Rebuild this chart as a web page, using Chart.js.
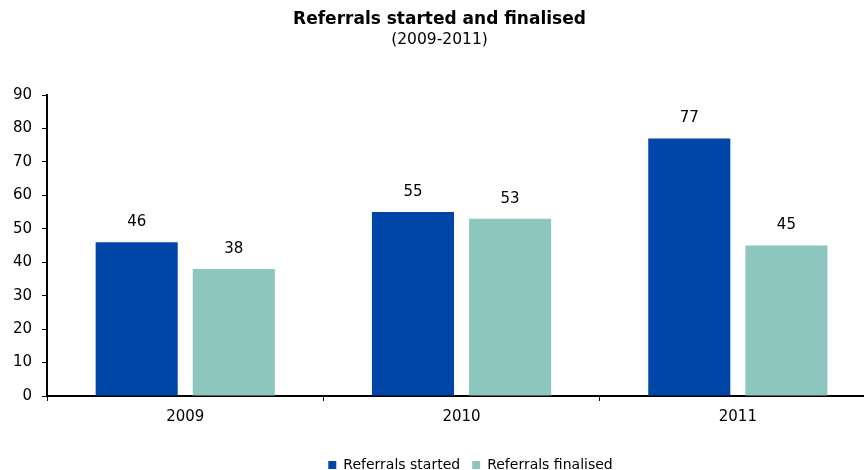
<!DOCTYPE html>
<html>
<head>
<meta charset="utf-8">
<script src="https://cdn.jsdelivr.net/npm/chart.js@4"></script>
<style>
  html, body { margin: 0; padding: 0; background: #fff; overflow: hidden; }
  .wrap { width: 906px; height: 470px; }
</style>
</head>
<body>
<div class="wrap"><canvas id="chart" width="906" height="470"></canvas></div>
<script>
const years = ["2009", "2010", "2011"];
const started = [46, 55, 77];
const finalised = [38, 53, 45];
const yTicks = [0, 10, 20, 30, 40, 50, 60, 70, 80, 90];

const FONT = "'DejaVu Sans', Verdana, sans-serif";

// value labels above each bar
const valueLabels = {
  id: "valueLabels",
  afterDatasetsDraw(chart) {
    const ctx = chart.ctx;
    ctx.save();
    ctx.font = "15px " + FONT;
    ctx.fillStyle = "#000";
    ctx.textAlign = "center";
    ctx.textBaseline = "middle";
    chart.data.datasets.forEach((ds, i) => {
      chart.getDatasetMeta(i).data.forEach((bar, j) => {
        ctx.fillText(ds.data[j], bar.x, bar.y - 20);
      });
    });
    ctx.restore();
  }
};

// move the legend a bit right and down, like the original
const legendShift = {
  id: "legendShift",
  afterLayout(chart) {
    const lg = chart.legend;
    lg.left += 31;
    lg.right += 31;
    lg.top += 13;
    lg.bottom += 13;
  }
};

new Chart(document.getElementById("chart"), {
  type: "bar",
  data: {
    labels: years,
    datasets: [
      {
        label: "Referrals started",
        data: started,
        backgroundColor: "#0046A8",
        categoryPercentage: 0.703,
        barPercentage: 0.845
      },
      {
        label: "Referrals finalised",
        data: finalised,
        backgroundColor: "#8DC6BF",
        categoryPercentage: 0.703,
        barPercentage: 0.845
      }
    ]
  },
  options: {
    responsive: false,
    animation: false,
    layout: { padding: { left: 3, right: 30, bottom: 1 } },
    plugins: {
      title: {
        display: true,
        text: "Referrals started and finalised",
        color: "#000",
        font: { family: FONT, size: 17, weight: "bold" },
        padding: { top: 9, bottom: 0 }
      },
      subtitle: {
        display: true,
        text: "(2009-2011)",
        color: "#000",
        font: { family: FONT, size: 15.5 },
        padding: { top: 1, bottom: 46 }
      },
      legend: {
        position: "bottom",
        labels: {
          color: "#000",
          font: { family: FONT, size: 14 },
          boxWidth: 8,
          boxHeight: 8,
          padding: 12
        }
      },
      tooltip: { enabled: false }
    },
    scales: {
      x: {
        grid: {
          offset: true,
          drawOnChartArea: false,
          tickLength: 5,
          color: "#000"
        },
        border: { color: "#000", width: 2 },
        ticks: {
          color: "#000",
          font: { family: FONT, size: 15 },
          padding: 7
        }
      },
      y: {
        min: 0,
        max: 90,
        afterBuildTicks(scale) {
          scale.ticks = yTicks.map(v => ({ value: v }));
        },
        grid: {
          drawOnChartArea: false,
          tickLength: 5,
          color: "#000"
        },
        border: { color: "#000", width: 2 },
        ticks: {
          color: "#000",
          font: { family: FONT, size: 15 },
          padding: 10
        }
      }
    }
  },
  plugins: [valueLabels, legendShift]
});
</script>
</body>
</html>
